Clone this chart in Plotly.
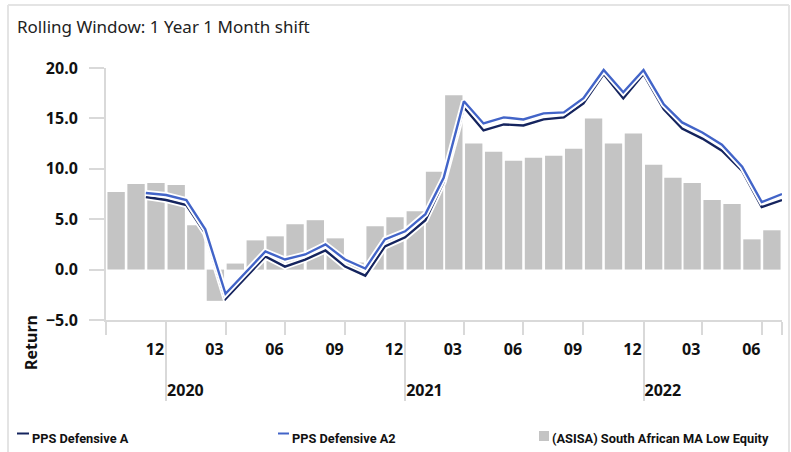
import plotly.graph_objects as go

# ---------------- data ----------------
months = [
    "2019-10", "2019-11", "2019-12",
    "2020-01", "2020-02", "2020-03", "2020-04", "2020-05", "2020-06",
    "2020-07", "2020-08", "2020-09", "2020-10", "2020-11", "2020-12",
    "2021-01", "2021-02", "2021-03", "2021-04", "2021-05", "2021-06",
    "2021-07", "2021-08", "2021-09", "2021-10", "2021-11", "2021-12",
    "2022-01", "2022-02", "2022-03", "2022-04", "2022-05", "2022-06", "2022-07",
]
sector_low_equity = [
    7.7, 8.5, 8.6,
    8.4, 4.4, -3.1, 0.6, 2.9, 3.3, 4.5, 4.9, 3.1, 0.7, 4.3, 5.2,
    5.8, 9.7, 17.3, 12.5, 11.7, 10.8, 11.1, 11.3, 12.0, 15.0, 12.5, 13.5,
    10.4, 9.1, 8.6, 6.9, 6.5, 3.0, 3.9,
]
pps_defensive_a = [
    None, 7.2, 6.9,
    6.4, 3.6, -2.9, -0.8, 1.3, 0.3, 1.0, 1.9, 0.3, -0.6, 2.3, 3.2,
    4.9, 8.7, 16.1, 13.8, 14.4, 14.3, 14.9, 15.1, 16.5, 19.4, 17.0, 19.4,
    15.9, 14.0, 13.0, 11.8, 9.8, 6.2, 6.9,
]
pps_defensive_a2 = [
    None, 7.6, 7.4,
    6.9, 4.0, -2.4, -0.3, 1.8, 1.0, 1.5, 2.5, 1.0, 0.1, 3.0, 3.8,
    5.5, 9.1, 16.7, 14.5, 15.1, 14.9, 15.5, 15.6, 17.0, 19.8, 17.6, 19.8,
    16.4, 14.6, 13.6, 12.4, 10.2, 6.7, 7.5,
]
series_names = ["PPS Defensive A", "PPS Defensive A2", "(ASISA) South African MA Low Equity"]
y_tick_values = [-5, 0, 5, 10, 15, 20]
quarter_ticks = [
    "2019-10-01", "2020-01-01", "2020-04-01", "2020-07-01", "2020-10-01",
    "2021-01-01", "2021-04-01", "2021-07-01", "2021-10-01",
    "2022-01-01", "2022-04-01", "2022-07-01", "2022-08-01",
]
month_label_ticks = [
    "2019-12-15", "2020-03-15", "2020-06-15", "2020-09-15", "2020-12-15",
    "2021-03-15", "2021-06-15", "2021-09-15", "2021-12-15",
    "2022-03-15", "2022-06-15",
]
year_ticks = ["2020-01-01", "2021-01-01", "2022-01-01"]
x_range = ["2019-10-01", "2022-08-01"]

# ---------------- styling ----------------
W, H = 791, 452
L, R, T, B = 106, 9, 68, 132
PW, PH = W - L - R, H - T - B


def px(x):
    return (x - L) / PW


def py(y):
    return (H - B - y) / PH


DARK = "#15245e"
BLUE = "#4264c8"
BAR = "#c4c4c4"
AXIS = "#d9d9d9"
FRAME = "#e4e4e4"
FONT = "Noto Sans"
tick_font = dict(family=FONT, size=16, color="#111111", weight="bold")

fig = go.Figure()
fig.add_trace(go.Bar(
    x=months, y=sector_low_equity, xperiod="M1", xperiodalignment="middle",
    marker=dict(color=BAR, line=dict(width=0)), name=series_names[2],
    showlegend=False,
))
for vals, col, nm in [(pps_defensive_a, DARK, series_names[0]),
                      (pps_defensive_a2, BLUE, series_names[1])]:
    fig.add_trace(go.Scatter(
        x=months, y=vals, xperiod="M1", xperiodalignment="end", mode="lines",
        line=dict(color="white", width=6), showlegend=False, hoverinfo="skip",
    ))
    fig.add_trace(go.Scatter(
        x=months, y=vals, xperiod="M1", xperiodalignment="end", mode="lines",
        line=dict(color=col, width=2.4), name=nm, showlegend=False,
    ))
# empty traces to bind overlay axes
fig.add_trace(go.Scatter(x=[], y=[], xaxis="x2", showlegend=False, hoverinfo="skip"))
fig.add_trace(go.Scatter(x=[], y=[], xaxis="x3", showlegend=False, hoverinfo="skip"))

fig.update_layout(
    width=W, height=H,
    margin=dict(l=L, r=R, t=T, b=B, autoexpand=False),
    paper_bgcolor="white", plot_bgcolor="white",
    bargap=0.1,
    title=dict(text="Rolling Window: 1 Year 1 Month shift", x=17 / W, xanchor="left",
               y=1 - 27 / H, yanchor="middle",
               font=dict(family=FONT, size=17, color="#222222")),
    xaxis=dict(type="date", range=x_range, showline=True, linecolor=AXIS, linewidth=2,
               ticks="outside", ticklen=13, tickwidth=2, tickcolor=AXIS,
               tickvals=quarter_ticks, showticklabels=False, showgrid=False,
               zeroline=False, automargin=False),
    xaxis2=dict(type="date", range=x_range, overlaying="x", anchor="y", side="bottom",
                tickvals=month_label_ticks, tickformat="%m", ticks="", showline=False,
                showgrid=False, zeroline=False, tickfont=tick_font,
                ticklabelstandoff=18, automargin=False),
    xaxis3=dict(type="date", range=x_range, overlaying="x", anchor="y", side="bottom",
                tickvals=year_ticks, tickformat="%Y", ticks="outside", ticklen=80,
                tickwidth=2, tickcolor=AXIS, showline=False, showgrid=False,
                zeroline=False, tickfont=tick_font, ticklabelposition="outside right",
                ticklabelstandoff=56, automargin=False),
    yaxis=dict(range=[-5, 20], tickvals=y_tick_values, tickformat=".1f",
               showline=True, linecolor=AXIS, linewidth=2, ticks="outside",
               ticklen=15, tickwidth=2, tickcolor=AXIS, showgrid=False,
               zeroline=False, tickfont=tick_font, ticklabelstandoff=8,
               automargin=False),
    font=dict(family=FONT, color="#111111"),
)

shapes = [
    # frame
    dict(type="line", xref="paper", yref="paper", x0=px(8), x1=px(8), y0=py(5), y1=py(460),
         line=dict(color=FRAME, width=2)),
    dict(type="line", xref="paper", yref="paper", x0=px(8), x1=px(789), y0=py(5), y1=py(5),
         line=dict(color=FRAME, width=2)),
    dict(type="line", xref="paper", yref="paper", x0=px(789), x1=px(789), y0=py(5), y1=py(460),
         line=dict(color=FRAME, width=2)),
    # legend markers
    dict(type="line", xref="paper", yref="paper", x0=px(17), x1=px(29), y0=py(433.5), y1=py(433.5),
         line=dict(color=DARK, width=2)),
    dict(type="line", xref="paper", yref="paper", x0=px(278), x1=px(289), y0=py(433.5), y1=py(433.5),
         line=dict(color=BLUE, width=2)),
    dict(type="rect", xref="paper", yref="paper", x0=px(539), x1=px(549), y0=py(431), y1=py(441),
         line=dict(width=0), fillcolor=BAR),
]
legend_font = dict(family="Roboto", size=12.8, color="#111111", weight="bold")
annotations = [
    dict(text="Return", xref="paper", yref="paper", x=px(31), y=py(343), textangle=-90,
         showarrow=False, xanchor="center", yanchor="middle",
         font=dict(family=FONT, size=16, color="#111111", weight="bold")),
    dict(text=series_names[0], xref="paper", yref="paper", x=px(30), y=py(438),
         xanchor="left", yanchor="middle", showarrow=False, font=legend_font),
    dict(text=series_names[1], xref="paper", yref="paper", x=px(290), y=py(438),
         xanchor="left", yanchor="middle", showarrow=False, font=legend_font),
    dict(text=series_names[2], xref="paper", yref="paper", x=px(550), y=py(438),
         xanchor="left", yanchor="middle", showarrow=False, font=legend_font),
]
fig.update_layout(shapes=shapes, annotations=annotations)

fig.write_html(
    "out.html",
    config={"displayModeBar": False},
    post_script="document.body.style.margin='0';document.body.style.overflow='hidden';",
)
